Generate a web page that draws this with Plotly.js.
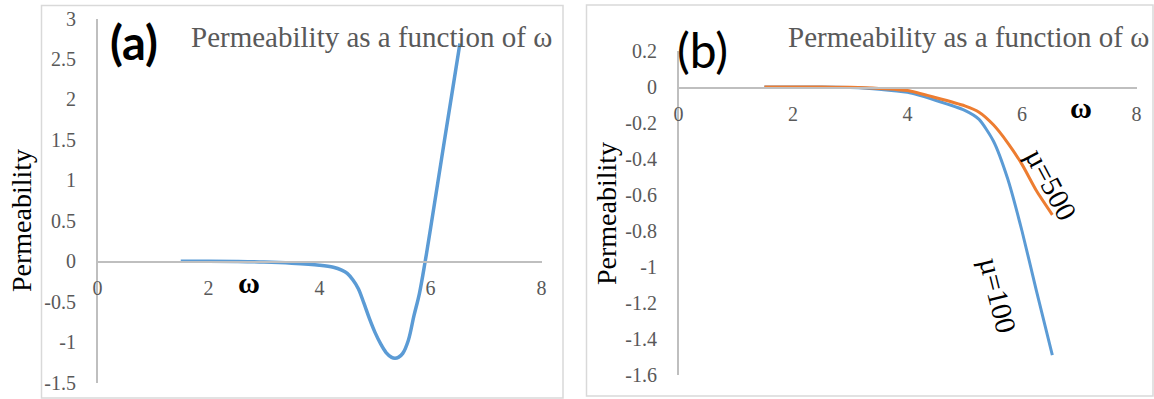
<!DOCTYPE html>
<html>
<head>
<meta charset="utf-8">
<script src="https://cdn.plot.ly/plotly-3.0.1.min.js"></script>
<style>
html,body{margin:0;padding:0;background:#fff;}
#chart{width:1154px;height:399px;}
</style>
</head>
<body>
<div id="chart"></div>
<script>
// ---- Data ----
// Panel (a): permeability vs omega
const omegaA = [1.5, 2, 2.5, 3, 3.5, 4, 4.25, 4.4, 4.5, 4.6, 4.7, 4.8, 4.9, 5.0, 5.1, 5.2, 5.3, 5.36, 5.42, 5.5, 5.6, 5.7, 5.8, 5.9, 6.0, 6.2, 6.4, 6.53];
const permA  = [0, 0, -0.003, -0.01, -0.025, -0.05, -0.075, -0.11, -0.15, -0.23, -0.34, -0.52, -0.71, -0.88, -1.02, -1.13, -1.19, -1.2, -1.19, -1.14, -0.98, -0.68, -0.40, -0.02, 0.40, 1.27, 2.13, 2.69];

// Panel (b): two curves, mu=100 and mu=500
const omegaB     = [1.5, 2, 2.5, 3, 3.5, 4, 4.5, 5, 5.25, 5.5, 5.75, 6, 6.25, 6.53];
const permMu100  = [0, 0, 0, -0.003, -0.012, -0.03, -0.075, -0.13, -0.18, -0.30, -0.51, -0.80, -1.13, -1.49];
const permMu500  = [0, 0, 0, -0.002, -0.008, -0.02, -0.06, -0.105, -0.14, -0.21, -0.31, -0.43, -0.575, -0.71];

// Tick labels
const xTickVals = [0, 2, 4, 6, 8];
const xTickText = ['0', '2', '4', '6', '8'];
const yTickValsA = [-1.5, -1, -0.5, 0, 0.5, 1, 1.5, 2, 2.5, 3];
const yTickTextA = ['-1.5', '-1', '-0.5', '0', '0.5', '1', '1.5', '2', '2.5', '3'];
const yTickValsB = [-1.6, -1.4, -1.2, -1, -0.8, -0.6, -0.4, -0.2, 0, 0.2];
const yTickTextB = ['-1.6', '-1.4', '-1.2', '-1', '-0.8', '-0.6', '-0.4', '-0.2', '0', '0.2'];

// Text
const titleText = 'Permeability as a function of \u03c9';
const yTitleText = 'Permeability';
const label100 = '\u00b5=100';
const label500 = '\u00b5=500';

// ---- Layout helpers ----
const W = 1154, H = 399;
const px = x => x / W;
const py = y => (H - y) / H;

const SERIF = '"Liberation Serif", "Times New Roman", serif';
const SANS = 'Lato, "Open Sans", sans-serif';
const tickFont = {family: SERIF, size: 20, color: '#595959'};
const axisColor = '#BFBFBF';

const traces = [
  {x: omegaA, y: permA, xaxis: 'x', yaxis: 'y', mode: 'lines', type: 'scatter',
   line: {color: '#5B9BD5', width: 3.5, shape: 'spline', smoothing: 1}, hoverinfo: 'skip'},
  {x: omegaB, y: permMu100, xaxis: 'x2', yaxis: 'y2', mode: 'lines', type: 'scatter',
   line: {color: '#5B9BD5', width: 3, shape: 'spline', smoothing: 0.6}, hoverinfo: 'skip'},
  {x: omegaB, y: permMu500, xaxis: 'x2', yaxis: 'y2', mode: 'lines', type: 'scatter',
   line: {color: '#ED7D31', width: 3, shape: 'spline', smoothing: 0.6}, hoverinfo: 'skip'}
];

const xCommon = {
  range: [0, 8], tickmode: 'array', tickvals: xTickVals, ticktext: xTickText,
  showgrid: false, zeroline: false, showline: true, linecolor: axisColor, linewidth: 1.5,
  ticks: 'outside', ticklen: 8, tickcolor: 'rgba(0,0,0,0)', tickfont: tickFont,
  anchor: 'free', fixedrange: true
};
const yCommon = {
  showgrid: false, zeroline: false, showline: true, linecolor: axisColor, linewidth: 1.5,
  ticks: 'outside', ticklen: 16, tickcolor: 'rgba(0,0,0,0)', tickfont: tickFont,
  tickmode: 'array', fixedrange: true
};

const layout = {
  width: W, height: H,
  margin: {l: 0, r: 0, t: 0, b: 0},
  paper_bgcolor: '#ffffff', plot_bgcolor: 'rgba(0,0,0,0)',
  showlegend: false,
  xaxis: Object.assign({}, xCommon, {domain: [px(97.5), px(541.5)], position: py(261)}),
  yaxis: Object.assign({}, yCommon, {domain: [py(382.5), py(18.5)], range: [-1.5, 3],
          tickvals: yTickValsA, ticktext: yTickTextA, anchor: 'x'}),
  xaxis2: Object.assign({}, xCommon, {domain: [px(678.5), px(1136.5)], position: py(87)}),
  yaxis2: Object.assign({}, yCommon, {domain: [py(375), py(51)], range: [-1.6, 0.2],
          tickvals: yTickValsB, ticktext: yTickTextB, anchor: 'x2'}),
  shapes: [
    {type: 'rect', xref: 'paper', yref: 'paper', x0: px(41.5), x1: px(563), y0: py(398), y1: py(5.5),
     line: {color: '#D9D9D9', width: 1.5}},
    {type: 'rect', xref: 'paper', yref: 'paper', x0: px(586.5), x1: px(1153), y0: py(396), y1: py(5),
     line: {color: '#D9D9D9', width: 1.5}}
  ],
  annotations: [
    // titles
    {text: titleText, xref: 'paper', yref: 'paper', x: px(189), y: py(37), xanchor: 'left', yanchor: 'middle',
     showarrow: false, font: {family: SERIF, size: 29, color: '#595959'}},
    {text: titleText, xref: 'paper', yref: 'paper', x: px(786), y: py(37), xanchor: 'left', yanchor: 'middle',
     showarrow: false, font: {family: SERIF, size: 29, color: '#595959'}},
    // panel letters
    {text: '<b>(a)</b>', xref: 'paper', yref: 'paper', x: px(134), y: py(42), xanchor: 'center', yanchor: 'middle',
     showarrow: false, font: {family: SANS, size: 47, color: '#000000'}},
    {text: '(b)', xref: 'paper', yref: 'paper', x: px(702), y: py(49), xanchor: 'center', yanchor: 'middle',
     showarrow: false, font: {family: SANS, size: 48, color: '#000000'}},
    // y axis titles
    {text: yTitleText, xref: 'paper', yref: 'paper', x: px(21), y: py(221), xanchor: 'center', yanchor: 'middle',
     textangle: -90, showarrow: false, font: {family: SERIF, size: 28, color: '#000000'}},
    {text: yTitleText, xref: 'paper', yref: 'paper', x: px(606), y: py(214), xanchor: 'center', yanchor: 'middle',
     textangle: -90, showarrow: false, font: {family: SERIF, size: 28, color: '#000000'}},
    // omega axis labels
    {text: '<b>\u03c9</b>', xref: 'paper', yref: 'paper', x: px(249), y: py(282), xanchor: 'center', yanchor: 'middle',
     showarrow: false, font: {family: SERIF, size: 30, color: '#000000'}},
    {text: '<b>\u03c9</b>', xref: 'paper', yref: 'paper', x: px(1081), y: py(107), xanchor: 'center', yanchor: 'middle',
     showarrow: false, font: {family: SERIF, size: 30, color: '#000000'}},
    // curve labels
    {text: label500, xref: 'paper', yref: 'paper', x: px(1051), y: py(184), xanchor: 'center', yanchor: 'middle',
     textangle: 62, showarrow: false, font: {family: SERIF, size: 29, color: '#000000'}},
    {text: label100, xref: 'paper', yref: 'paper', x: px(998), y: py(295), xanchor: 'center', yanchor: 'middle',
     textangle: 76, showarrow: false, font: {family: SERIF, size: 29, color: '#000000'}}
  ]
};

Plotly.newPlot('chart', traces, layout, {staticPlot: true, displayModeBar: false});
</script>
</body>
</html>
